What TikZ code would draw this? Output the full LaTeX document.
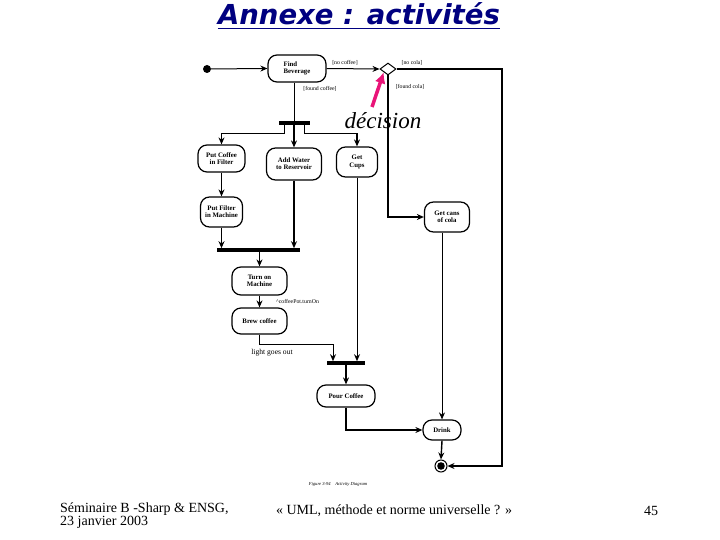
\documentclass[tikz,border=0pt]{standalone}
\usepackage{fontspec}
\setmainfont{Liberation Serif}
\newfontfamily\titlefont{DejaVu Sans}
\usepackage{tikz}
\usetikzlibrary{arrows,arrows.meta,shapes,positioning}
\definecolor{navy}{RGB}{0,0,128}
\definecolor{pinkarrow}{RGB}{233,20,120}

\begin{document}
\begin{tikzpicture}
[
	x=1pt, y=-1pt,
	activity/.style = {rectangle, draw, rounded corners = 9pt, line width=1.2pt, inner sep=1pt, align=center, font=\fontsize{6.8}{7.2}\selectfont\bfseries},
	bar/.style = {rectangle, fill, inner sep=0pt, minimum height=3.2pt},
	guard/.style = {font=\fontsize{5.8}{6}\selectfont, inner sep=0pt},
	arrow/.style = {-{Stealth[length=7pt,width=6pt]}, line width=1.4pt},
	thinarrow/.style = {-{Stealth[length=7pt,width=6pt]}, line width=1pt},
	line/.style = {-, line width=1pt},
	footer/.style = {font=\fontsize{14}{13}\selectfont, inner sep=0pt}
]

\useasboundingbox[fill=white] (0,0) rectangle (720,540);

% title
\node[font=\titlefont\fontsize{27.5}{30}\selectfont\bfseries\itshape, text=navy, anchor=base, inner sep=0pt] (title) at (359,25) {Annexe : activités};
\draw[navy, line width=1.6pt] ([yshift=-3.5pt]title.base west) -- ([yshift=-3.5pt]title.base east);

% activities
\node[circle, fill, inner sep=0pt, minimum size=8pt] (start) at (207,69) {};
\node[activity, minimum width=58pt, minimum height=27pt, align=left] (find) at (297,68.5) {Find\\Beverage};
\node[draw, diamond, line width=1pt, inner sep=0pt, minimum width=16pt, minimum height=12pt] (decision) at (388,69) {};
\coordinate (corner) at (502,69);

\node[bar, minimum width=31pt] (fork) at (294.5,123) {};
\node[activity, minimum width=47pt, minimum height=27pt] (putcoffee) at (221.5,158.5) {Put Coffee\\in Filter};
\node[activity, minimum width=55pt, minimum height=32pt] (addwater) at (294,164) {Add Water\\to Reservoir};
\node[activity, minimum width=41pt, minimum height=30pt] (getcups) at (357,162) {Get\\Cups};
\node[activity, minimum width=42pt, minimum height=30pt] (putfilter) at (221.5,212) {Put Filter\\in Machine};
\node[activity, minimum width=45pt, minimum height=30pt] (getcola) at (447,217) {Get cans\\of cola};

\node[bar, minimum width=83pt] (join) at (258.5,250) {};
\node[activity, minimum width=55pt, minimum height=28pt] (turnon) at (259.5,281) {Turn on\\Machine};
\node[activity, minimum width=55pt, minimum height=26pt] (brew) at (259.5,321) {Brew coffee};

\node[bar, minimum width=38pt] (joincups) at (346,363) {};
\node[activity, minimum width=58pt, minimum height=22pt] (pour) at (346,396) {Pour Coffee};
\node[activity, minimum width=38pt, minimum height=20pt] (drink) at (442,430) {Drink};
\node[circle, draw, line width=1pt, inner sep=0pt, minimum size=12pt] (end) at (441,466) {};
\fill (end.center) circle (3.8pt);

% guards and labels
\node[guard] (nocoffee) at (345,63) {[no coffee]};
\node[guard] (nocola) at (412,63) {[no cola]};
\node[guard] (foundcola) at (410,87) {[found cola]};
\node[guard] (foundcoffee) at (320,89) {[found coffee]};
\node[guard, anchor=west] (turnonsig) at (276,301) {\^{}coffeePot.turnOn};
\node[guard, font=\fontsize{7.6}{8}\selectfont] (lightout) at (272,353) {light goes out};

% flows
\draw[thinarrow] (start) -- (find.west);
\draw[thinarrow] (find.east) -- (decision.west);
\draw[arrow] (decision.east) -- (corner) |- (end.east);
\draw[arrow] (decision.south) |- (getcola.west);
\draw[line] (find.south -| fork.north) -- (fork.north);

\draw[arrow] ([xshift=-10pt]fork.south) |- ([yshift=11pt]putcoffee.north) -- (putcoffee.north);
\draw[arrow] (fork.south -| addwater.north) -- (addwater.north);
\draw[arrow] ([xshift=10pt]fork.south) |- ([yshift=13pt]getcups.north) -- (getcups.north);

\draw[arrow] (putcoffee.south) -- (putcoffee.south |- putfilter.north);
\draw[arrow] (putfilter.south) -- (putfilter.south |- join.north);
\draw[arrow] (addwater.south) -- (addwater.south |- join.north);
\draw[arrow] (join.south -| turnon.north) -- (turnon.north);
\draw[arrow] (turnon.south) -- (brew.north);
\draw[thinarrow] (brew.south) |- ([xshift=-13pt,yshift=17pt]joincups.north) -- ([xshift=-13pt]joincups.north);
\draw[thinarrow] (getcups.south) -- (getcups.south |- joincups.north);
\draw[arrow] (joincups.south) -- (pour.north);
\draw[arrow] (pour.south) |- (drink.west);
\draw[thinarrow] (drink.north |- getcola.south) -- (drink.north);
\draw[arrow] (drink.south) -- (end.north);

% annotation
\node[font=\fontsize{23}{24}\selectfont\itshape, inner sep=0pt] (decisionlabel) at (383,121) {décision};
\draw[-{Latex[length=11pt,width=11pt]}, pinkarrow, line width=3.5pt] (372,107) -- (decision.south west);

\node[font=\fontsize{4.6}{5}\selectfont\itshape, inner sep=0pt] (caption) at (338,484) {Figure 3-94\quad Activity Diagram};

% footer
\node[footer, anchor=west, align=left] (seminar) at (60,516) {Séminaire B -Sharp \& ENSG,\\23 janvier 2003};
\node[footer] (subject) at (394,511) {« UML, méthode et norme universelle ? »};
\node[footer] (page) at (651,511) {45};

\end{tikzpicture}
\end{document}
